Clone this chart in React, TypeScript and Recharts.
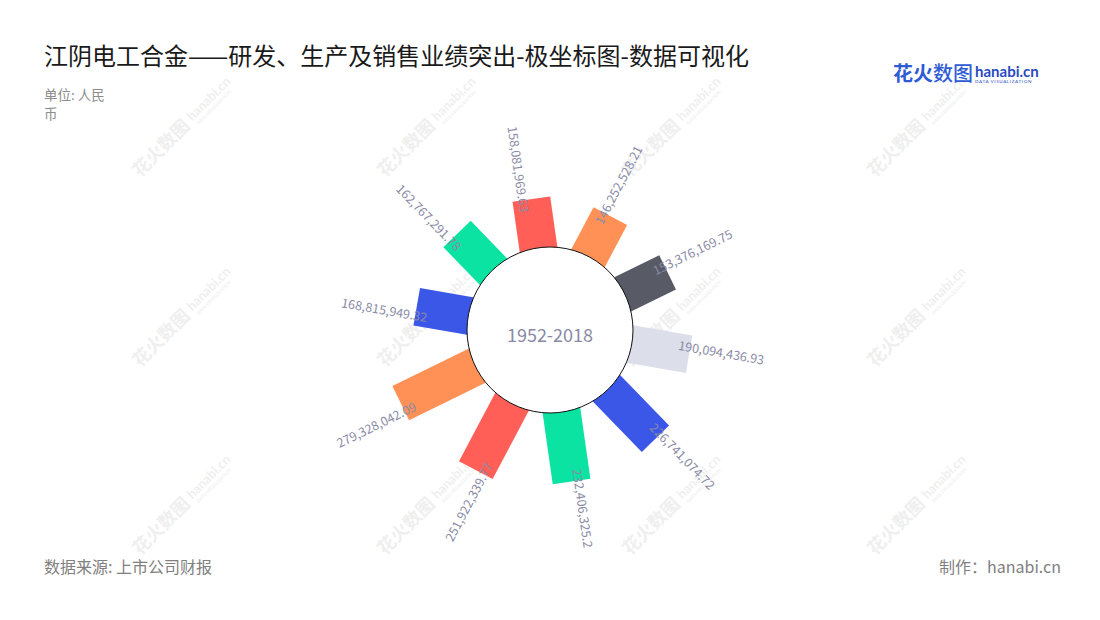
import React from 'react';
import { RadialBarChart, RadialBar, PolarAngleAxis, PolarRadiusAxis, Cell } from 'recharts';

// ---- data ----
const years = ['2009', '2010', '2011', '2012', '2013', '2014', '2015', '2016', '2017', '2018'];
const revenue = [
  168815949.32, 162767291.78, 158081969.63, 146252528.21, 153376169.75,
  190094436.93, 226741074.72, 232406325.2, 251922339.77, 279328042.09,
];
const palette = ['#3a57e8', '#0ae3a2', '#ff5f57', '#ff9157', '#585a66', '#dcdfea'];
const radiusDomain = [0, 300000000];
const titleText = '江阴电工合金——研发、生产及销售业绩突出-极坐标图-数据可视化';
const unitLines = ['单位: 人民', '币'];
const centerText = '1952-2018';
const sourceText = '数据来源: 上市公司财报';
const makerText = '制作：hanabi.cn';
const watermarkCols = [140, 385, 630, 875];
const watermarkRows = [178, 368, 556];

const data = years.map((y, i) => ({ year: y, revenue: revenue[i] }));

const fmt = new Intl.NumberFormat('en-US', { maximumFractionDigits: 2 });
const FONT = '"Noto Sans CJK SC", "Noto Sans", sans-serif';
const LABEL_COLOR = '#8a8aa6';

const BarShape = (props: any) => {
  const { cx, cy, outerRadius, startAngle, endAngle, fill, payload } = props;
  const mid = (startAngle + endAngle) / 2;
  const rad = (mid * Math.PI) / 180;
  const ux = Math.cos(rad);
  const uy = -Math.sin(rad);
  const px = -uy;
  const py = ux;
  const hw = 19;
  const r0 = 40;
  const r1 = outerRadius;
  const pts = [
    [cx + ux * r0 + px * hw, cy + uy * r0 + py * hw],
    [cx + ux * r1 + px * hw, cy + uy * r1 + py * hw],
    [cx + ux * r1 - px * hw, cy + uy * r1 - py * hw],
    [cx + ux * r0 - px * hw, cy + uy * r0 - py * hw],
  ]
    .map((p) => p.join(','))
    .join(' ');
  // label
  const ra = r1 - 12;
  const tx = -Math.sin(rad);
  const ty = -Math.cos(rad);
  const lx = cx + ux * ra + tx * 8;
  const ly = cy + uy * ra + ty * 8;
  const norm = ((mid % 360) + 360) % 360;
  const rightSide = norm < 90 || norm > 270;
  const rot = rightSide ? -mid : 180 - mid;
  return (
    <g>
      <polygon points={pts} fill={fill} />
      <text
        x={lx}
        y={ly}
        transform={`rotate(${rot}, ${lx}, ${ly})`}
        textAnchor={rightSide ? 'start' : 'end'}
        dominantBaseline="central"
        fontSize={12.5}
        fill={LABEL_COLOR}
        fontFamily={FONT}
      >
        {fmt.format(payload.revenue)}
      </text>
    </g>
  );
};

const Watermark = ({ x, y }: { x: number; y: number }) => (
  <g transform={`rotate(-45, ${x}, ${y})`} fill="#efefef" fontFamily={FONT} fontWeight={700}>
    <text x={x} y={y} fontSize={18}>花火数图</text>
    <text x={x + 77} y={y - 3} fontSize={13} fontFamily="Lato, sans-serif">hanabi.cn</text>
    <text x={x + 79} y={y + 4} fontSize={4.5} fontFamily="Lato, sans-serif">DATA VISUALIZATION</text>
  </g>
);

export default function App() {
  return (
    <div style={{ position: 'absolute', left: 0, top: 0, width: 1100, height: 620, background: '#fff', overflow: 'hidden' }}>
      <svg width={1100} height={620} style={{ position: 'absolute', left: 0, top: 0 }}>
        {watermarkRows.map((wy) => watermarkCols.map((wx) => <Watermark key={`${wx}-${wy}`} x={wx} y={wy} />))}
      </svg>
      <div style={{ position: 'absolute', left: 0, top: 0 }}>
        <RadialBarChart
          width={1100}
          height={620}
          cx={550}
          cy={330}
          innerRadius={88}
          outerRadius={172}
          startAngle={152}
          endAngle={-208}
          data={data}
          layout="centric"
          margin={{ top: 0, right: 0, bottom: 0, left: 0 }}
        >
          <PolarAngleAxis type="category" dataKey="year" tick={false} axisLine={false} tickLine={false} />
          <PolarRadiusAxis type="number" domain={radiusDomain} tick={false} axisLine={false} tickLine={false} />
          <RadialBar dataKey="revenue" isAnimationActive={false} shape={BarShape}>
            {data.map((d, i) => (
              <Cell key={d.year} fill={palette[i % palette.length]} />
            ))}
          </RadialBar>
        </RadialBarChart>
      </div>
      <svg width={1100} height={620} style={{ position: 'absolute', left: 0, top: 0, pointerEvents: 'none' }} fontFamily={FONT}>
        <circle cx={550} cy={330} r={83} fill="#fff" stroke="#111" strokeWidth={1} />
        <text x={550} y={334} textAnchor="middle" dominantBaseline="central" fontSize={18} fill={LABEL_COLOR}>
          {centerText}
        </text>
        <text x={44} y={65} fontSize={24} fill="#1a1a1a">{titleText}</text>
        {unitLines.map((t, i) => (
          <text key={t} x={44} y={100 + i * 19} fontSize={13.5} fill="#8c8c8c">{t}</text>
        ))}
        <text x={44} y={573} fontSize={16} fill="#808080">{sourceText}</text>
        <text x={1061} y={573} fontSize={16} fill="#808080" textAnchor="end">{makerText}</text>
        {/* logo */}
        <text x={893} y={81} fontSize={20} fontWeight={700} fill="#2f5bd6">花火</text>
        <text x={933} y={81} fontSize={20} fontWeight={500} fill="#2f5bd6">数图</text>
        <text x={975} y={77} fontSize={15} fontWeight={700} fill="#2a4bbf" fontFamily="Lato, sans-serif">hanabi.cn</text>
        <text x={975} y={83} fontSize={4.6} fill="#2a4bbf" fontFamily="Lato, sans-serif" letterSpacing={0.6}>DATA VISUALIZATION</text>
      </svg>
    </div>
  );
}
